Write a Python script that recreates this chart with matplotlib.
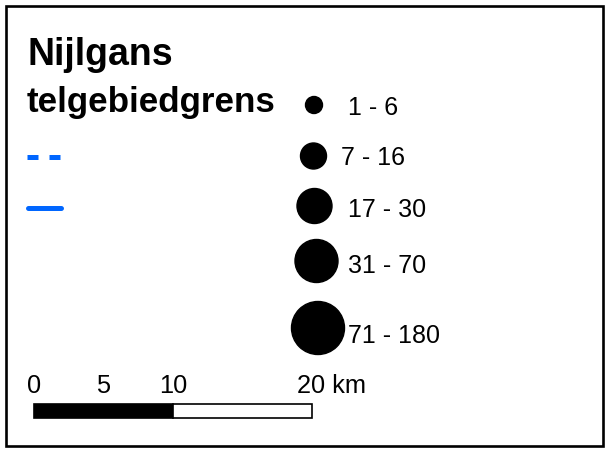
import matplotlib
matplotlib.use("Agg")
import matplotlib.pyplot as plt
from matplotlib.patches import Circle, Rectangle

plt.rcParams['font.family'] = ['Liberation Sans', 'DejaVu Sans']

# legend content
title = "Nijlgans"
subtitle = "telgebiedgrens"
classes = ["1 - 6", "7 - 16", "17 - 30", "31 - 70", "71 - 180"]
scale_km = [0, 5, 10, 20]
scale_unit = "km"

# layout (pixels, origin top-left)
circle_r = [8.5, 13, 17.5, 21.5, 26.5]
circle_x = [314, 313.5, 314.5, 316.5, 318]
circle_y = [105, 156, 206, 261, 328]
label_x = [348, 341, 348, 348, 348]
label_base = [115, 165, 217, 273, 343]
blue = '#0066ff'
px_per_km = 13.9
bar_x0, bar_y0, bar_h = 34, 404, 14

fig = plt.figure(figsize=(6.05, 4.5), dpi=100)
ax = fig.add_axes([0, 0, 1, 1])
ax.set_xlim(0, 605)
ax.set_ylim(450, 0)
ax.axis('off')

# frame
ax.add_patch(Rectangle((5.5, 5.5), 597.5, 440, fill=False, ec='black', lw=1.9))

ax.text(27, 65, title, fontsize=27, fontweight='bold', va='baseline', ha='left')
ax.text(27, 112, subtitle, fontsize=25.2, fontweight='bold', va='baseline', ha='left')

# boundary line symbols
ax.plot([27, 60], [156.5, 156.5], color=blue, lw=3.6, solid_capstyle='butt',
        dash_capstyle='butt', dashes=(2.2, 2.2))
ax.plot([28, 61], [208, 208], color=blue, lw=3.6, solid_capstyle='round')

# graduated circles
for lab, r, cx, cy, lx, lb in zip(classes, circle_r, circle_x, circle_y, label_x, label_base):
    ax.add_patch(Circle((cx, cy), r, color='black'))
    ax.text(lx, lb, lab, fontsize=18, va='baseline', ha='left')

# scale bar
half = scale_km[2] * px_per_km
full = scale_km[-1] * px_per_km
ax.add_patch(Rectangle((bar_x0, bar_y0), half, bar_h, fc='black', ec='black', lw=1.2))
ax.add_patch(Rectangle((bar_x0 + half, bar_y0), full - half, bar_h, fc='white', ec='black', lw=1.2))
for km in scale_km[:-1]:
    ax.text(bar_x0 + km * px_per_km, 393, str(km), fontsize=18.3, ha='center', va='baseline')
ax.text(bar_x0 + full - 15, 393, f"{scale_km[-1]} {scale_unit}", fontsize=18.3, ha='left', va='baseline')

fig.savefig("out.png", dpi=100)
